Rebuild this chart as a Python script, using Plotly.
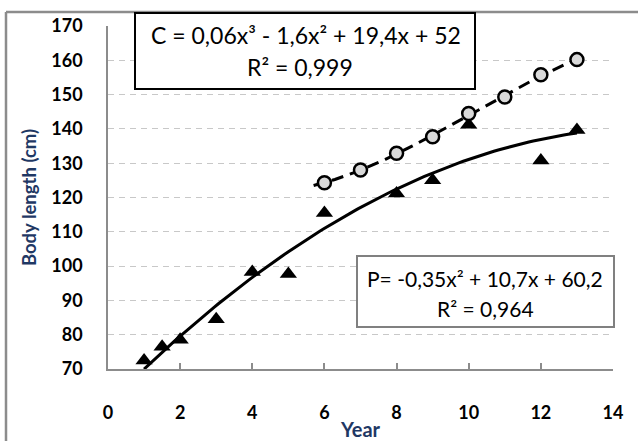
import numpy as np
import plotly.graph_objects as go

# Data
p_years = [1, 1.5, 2, 3, 4, 5, 6, 8, 9, 10, 12, 13]
p_length = [72.5, 76.5, 78.5, 84.5, 98.3, 97.7, 115.5, 121.2, 125.0, 141.2, 130.8, 139.7]
c_years = [6, 7, 8, 9, 10, 11, 12, 13]
c_length = [124.3, 128.0, 132.9, 137.7, 144.5, 149.3, 155.8, 160.2]

x_ticks = [0, 2, 4, 6, 8, 10, 12, 14]
y_ticks = [70, 80, 90, 100, 110, 120, 130, 140, 150, 160, 170]

eq_c = "C = 0,06x³ - 1,6x² + 19,4x + 52"
r2_c = "R² = 0,999"
eq_p = "P= -0,35x² + 10,7x + 60,2"
r2_p = "R² = 0,964"

# Trend lines fitted from the data
pc = np.polyfit(p_years, p_length, 2)
px_fit = np.linspace(1.0, 13.0, 100)
py_fit = np.polyval(pc, px_fit)
cc = np.polyfit(c_years, c_length, 3)
cx_fit = np.linspace(5.7, 13.0, 100)
cy_fit = np.polyval(cc, cx_fit)

FONT = "Lato"
NAVY = "#1f3864"

fig = go.Figure()
fig.add_trace(go.Scatter(x=px_fit, y=py_fit, mode="lines",
                         line=dict(color="black", width=3), hoverinfo="skip"))
fig.add_trace(go.Scatter(x=cx_fit, y=cy_fit, mode="lines",
                         line=dict(color="black", width=3, dash="12px,7px"), hoverinfo="skip"))
fig.add_trace(go.Scatter(x=p_years, y=p_length, mode="markers",
                         marker=dict(symbol="triangle-up", size=15, color="black")))
fig.add_trace(go.Scatter(x=c_years, y=c_length, mode="markers",
                         marker=dict(symbol="circle", size=13, color="#d9d9d9",
                                     line=dict(color="black", width=2.5))))

fig.update_layout(
    width=638, height=441,
    margin=dict(l=108, r=25, t=26, b=72),
    paper_bgcolor="white", plot_bgcolor="white",
    showlegend=False,
    font=dict(family=FONT, color="black"),
)
fig.update_xaxes(
    range=[0, 14], tickvals=x_ticks, ticktext=[str(v) for v in x_ticks],
    automargin=False,
    showgrid=False, zeroline=False,
    showline=True, linecolor="#8c8c8c", linewidth=1.5,
    ticks="inside", ticklen=6, tickcolor="#8c8c8c", tickwidth=1.5,
    tickfont=dict(family=FONT, size=18, color="black", weight="bold"),
    ticklabelstandoff=27,
    title=dict(text="Year", font=dict(family=FONT, size=20, color=NAVY, weight="bold"), standoff=4),
)
fig.update_yaxes(
    range=[70, 170], tickvals=y_ticks, ticktext=[str(v) for v in y_ticks],
    automargin=False,
    showgrid=True, gridcolor="#c8c8c8", griddash="6px,5px", gridwidth=1.3,
    zeroline=False,
    showline=True, linecolor="#8c8c8c", linewidth=1.5,
    ticks="",
    tickfont=dict(family=FONT, size=18, color="black", weight="bold"),
    ticklabelstandoff=20,
    title=dict(text="Body length (cm)", font=dict(family=FONT, size=18.5, color=NAVY, weight="bold"), standoff=10),
)

def xp(px):
    return (px - 108) / 505.0

def yp(py):
    return (369 - py) / 343.0

shapes = [
    # outer frame (top and left edges)
    dict(type="line", xref="paper", yref="paper", x0=xp(6), x1=xp(645), y0=yp(12), y1=yp(12),
         line=dict(color="#8c8c8c", width=2.5)),
    dict(type="line", xref="paper", yref="paper", x0=xp(6), x1=xp(6), y0=yp(12), y1=yp(450),
         line=dict(color="#8c8c8c", width=2.5)),
    # C equation box
    dict(type="rect", xref="paper", yref="paper", x0=xp(135), x1=xp(475), y0=yp(89), y1=yp(13),
         line=dict(color="black", width=2), fillcolor="white", layer="above"),
    # P equation box
    dict(type="rect", xref="paper", yref="paper", x0=xp(357), x1=xp(614), y0=yp(327), y1=yp(256),
         line=dict(color="#808080", width=2), fillcolor="white", layer="above"),
]
fig.update_layout(shapes=shapes)

ann = []
for txt, cx, cy, size in [(eq_c, 306, 35, 23), (r2_c, 300, 67, 23),
                          (eq_p, 485, 278, 21), (r2_p, 485, 308, 21)]:
    ann.append(dict(text=txt, xref="paper", yref="paper", x=xp(cx), y=yp(cy),
                    xanchor="center", yanchor="middle", showarrow=False,
                    font=dict(family=FONT, size=size, color="black")))
fig.update_layout(annotations=ann)

fig.write_html("out.html")
